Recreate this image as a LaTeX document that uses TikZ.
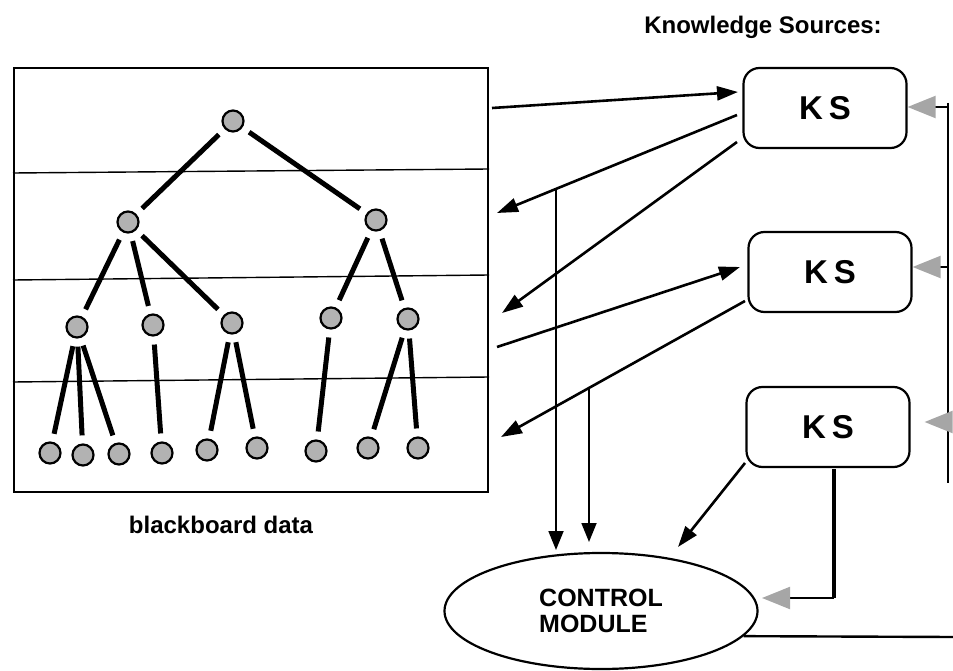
\documentclass[tikz,border=0pt]{standalone}
\usepackage{fontspec}
\setmainfont{Liberation Sans}
\usetikzlibrary{arrows.meta,shapes.geometric,calc}
\begin{document}
\begin{tikzpicture}[x=1pt,y=-1pt,
  bbline/.style={line width=1.4pt},
  bbframe/.style={line width=2pt},
  tedge/.style={line width=5pt, shorten >=8pt, shorten <=8pt},
  tnode/.style={circle, draw, line width=2.2pt, fill=gray!60, minimum size=21pt, inner sep=0pt},
  ksbox/.style={draw, rounded corners=16pt, line width=2.2pt, minimum width=163pt, minimum height=80pt, inner sep=0pt,
    font=\bfseries\fontsize{33}{33}\selectfont},
  conn/.style={line width=2.6pt, -{Triangle[length=21pt,width=14pt]}},
  vconn/.style={line width=1.8pt, -{Triangle[length=19pt,width=15pt]}},
  garrow/.style={line width=2.2pt, -{Triangle[length=28pt,width=22pt,color=gray!70]}},
  lbl/.style={font=\bfseries\fontsize{24}{24}\selectfont, inner sep=0pt}
]
\useasboundingbox (0,0) rectangle (953,671);

% blackboard frame and level lines
\node[draw, bbframe, minimum width=474pt, minimum height=424pt, inner sep=0pt] (bb) at (251,280) {};
\draw[bbline] (bb.west |- 0,173) -- (bb.east |- 0,169);
\draw[bbline] (bb.west |- 0,280) -- (bb.east |- 0,275);
\draw[bbline] (bb.west |- 0,382) -- (bb.east |- 0,377);

% tree nodes
\node[tnode] (r) at (233,121) {};
\node[tnode] (a) at (128,222) {};
\node[tnode] (b) at (376,220) {};
\node[tnode] (a1) at (77,327) {};
\node[tnode] (a2) at (153,325) {};
\node[tnode] (a3) at (232,323) {};
\node[tnode] (b1) at (331,318) {};
\node[tnode] (b2) at (408,319) {};
\node[tnode] (l1) at (50,453) {};
\node[tnode] (l2) at (83,455) {};
\node[tnode] (l3) at (119,454) {};
\node[tnode] (l4) at (162,453) {};
\node[tnode] (l5) at (207,450) {};
\node[tnode] (l6) at (257,448) {};
\node[tnode] (l7) at (316,451) {};
\node[tnode] (l8) at (368,448) {};
\node[tnode] (l9) at (418,448) {};

\foreach \p/\c in {r/a, r/b, a/a1, a/a2, a/a3, b/b1, b/b2, a1/l1, a1/l2, a1/l3, a2/l4, a3/l5, a3/l6, b1/l7, b2/l8, b2/l9}
  \draw[tedge] (\p) -- (\c);

\node[lbl] (bbl) at (221,525) {blackboard data};

% knowledge sources
\node[lbl, anchor=base] (kst) at (763,34) {Knowledge Sources:};
\node[ksbox] (k1) at (825,108) {K\hspace{6pt}S};
\node[ksbox] (k2) at (830,272) {K\hspace{6pt}S};
\node[ksbox] (k3) at (828,427) {K\hspace{6pt}S};

% control module
\node[draw, ellipse, line width=2.2pt, minimum width=313pt, minimum height=116pt, inner sep=0pt,
  align=left, font=\bfseries\fontsize{25}{26}\selectfont] (cm) at (601,611) {CONTROL\\MODULE};

% blackboard <-> KS connectors
\coordinate (s1) at (492,108);
\coordinate (s2) at (497,347);
\coordinate (t1) at (497,213);
\coordinate (t2) at (502,313);
\coordinate (t3) at (501,437);
\coordinate (o1) at (737,115);
\coordinate (o2) at (737,142);
\coordinate (o3) at (745,301);
\draw[conn] (s1) -- (738,92);
\draw[conn] (o1) -- (t1);
\draw[conn] (o2) -- (t2);
\draw[conn] (s2) -- (740,267);
\draw[conn] (o3) -- (t3);

% branches down to control module
\coordinate (j1) at (556,189);
\coordinate (j2) at (589,389);
\draw[vconn] (j1) -- (556,550);
\draw[vconn] (j2) -- (589,542);
\draw[conn] (745,463) -- (678,547);

% KS3 to control module (grey)
\coordinate (c3) at (834,598);
\draw[line width=3.2pt] (834,469) -- (c3);
\draw[garrow] (c3) -- (762,598);

% feedback from control module to KSs
\draw[line width=2.4pt] (cm.-10.5) -- (953,637);
\draw[line width=2pt] (948,103) -- (948,483);
\coordinate (f1) at (948,107);
\coordinate (f2) at (948,267);
\coordinate (f3) at (949,422);
\draw[garrow] (f1) -- (k1.east |- f1);
\draw[garrow] (f2) -- (k2.east |- f2);
\draw[garrow] (f3) -- ([xshift=14pt]k3.east |- f3);
\end{tikzpicture}
\end{document}
